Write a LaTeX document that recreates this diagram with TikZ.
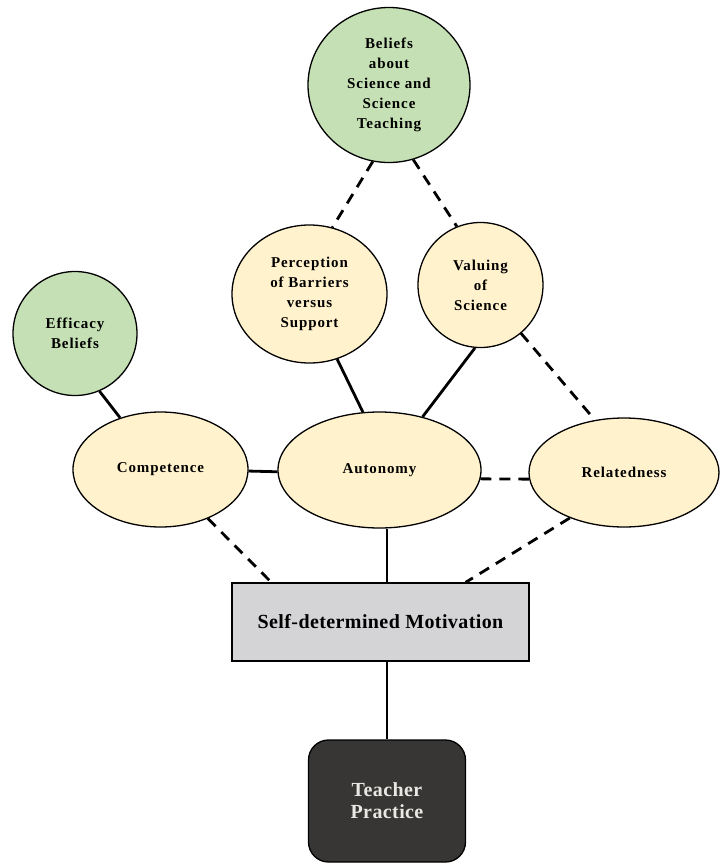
\documentclass[tikz,border=0pt]{standalone}
\usepackage{fontspec}
\setmainfont{Liberation Serif}
\newfontfamily\lsfont[LetterSpace=6]{Liberation Serif}
\newfontfamily\msfont[LetterSpace=2]{Liberation Serif}
\usetikzlibrary{shapes.geometric,backgrounds}
\definecolor{cgreen}{RGB}{197,224,180}
\definecolor{cyellow}{RGB}{255,242,204}
\definecolor{cgray}{RGB}{212,212,214}
\definecolor{cdark}{RGB}{56,54,52}
\definecolor{ctext}{RGB}{232,232,228}
\newcommand\lab{\fontsize{15}{20}\selectfont\lsfont\bfseries}
\newcommand\biglab{\fontsize{20}{24}\selectfont\msfont\bfseries}
\newcommand\tplab{\fontsize{20}{22}\selectfont\msfont\bfseries}
\tikzset{
  bub/.style={draw=black, line width=1.3pt, inner sep=0pt, align=center, font=\lab},
  gfill/.style={fill=cgreen},
  yfill/.style={fill=cyellow},
  conn/.style={line width=2.8pt},
  dconn/.style={line width=2.8pt, dash pattern=on 11pt off 8pt},
}
\begin{document}
\begin{tikzpicture}[x=1pt,y=-1pt]
\useasboundingbox (0,0) rectangle (720,863);
% nodes
\node[bub,gfill,ellipse,minimum width=162pt,minimum height=155pt] (bel) at (389,85) {Beliefs\\about\\Science and\\Science\\Teaching};
\node[bub,yfill,ellipse,minimum width=155pt,minimum height=138pt] (per) at (309.5,294) {Perception\\of Barriers\\versus\\Support};
\node[bub,yfill,circle,minimum size=125pt] (val) at (480.5,285) {Valuing\\of\\Science};
\node[bub,gfill,circle,minimum size=124pt] (eff) at (75,333.5) {Efficacy\\Beliefs};
\node[bub,yfill,ellipse,minimum width=175pt,minimum height=115pt] (com) at (160.5,469.5) {Competence};
\node[bub,yfill,ellipse,minimum width=203pt,minimum height=116pt] (aut) at (379.5,470) {Autonomy};
\node[bub,yfill,ellipse,minimum width=190pt,minimum height=109pt] (rel) at (624,472.5) {Relatedness};
\node[draw=black,line width=1.3pt,fill=cgray,minimum width=297pt,minimum height=78pt,inner sep=0pt,font=\biglab] (sdm) at (380.5,622) {Self-determined Motivation};
\node[draw=black,line width=1.3pt,fill=cdark,rounded corners=20pt,minimum width=157pt,minimum height=122pt,inner sep=0pt,align=center,text=ctext,font=\tplab] (tp) at (387,801) {Teacher\\Practice};
% connectors
\begin{scope}[on background layer]
\fill[white] (0,0) rectangle (720,863);
\draw[dconn] (bel.-102.3) -- (per.71);
\draw[dconn] (bel.-72.9) -- (val.112);
\draw[conn] (per.-67.4) -- (aut.106);
\draw[conn] (val.-95) -- (aut.51);
\draw[dconn] (val.-50.7) -- (rel.119.6);
\draw[conn] (eff.-67.8) -- (com.128);
\draw[conn] (com.-1.5) -- (aut.181);
\draw[dconn] (aut.-5.7) -- (rel.184.5);
\draw[dconn] (com.-46.8) -- ([xshift=40pt]sdm.north west);
\draw[conn] (tp.north |- aut.south) -- (tp.north |- sdm.north);
\draw[dconn] (rel.-140.5) -- ([xshift=-64pt]sdm.north east);
\draw[conn] (sdm.south -| tp.north) -- (tp.north);
\end{scope}
\end{tikzpicture}
\end{document}
